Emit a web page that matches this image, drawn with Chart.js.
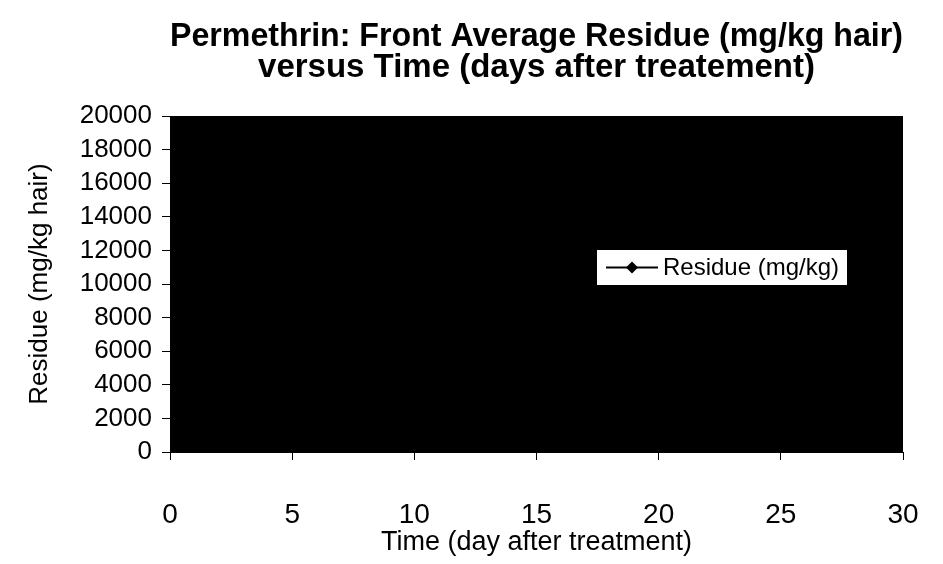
<!DOCTYPE html>
<html>
<head>
<meta charset="utf-8">
<script src="https://cdn.jsdelivr.net/npm/chart.js@4"></script>
<style>
  html, body { margin: 0; padding: 0; background: #fff; overflow: hidden; }
  #wrap { width: 943px; height: 564px; }
</style>
</head>
<body>
<div id="wrap"><canvas id="residue"></canvas></div>
<script>
// days after treatment and residue (values sit close to zero)
var days = [1, 14, 21];
var residue = [300, 150, 250];
var seriesLabel = "Residue (mg/kg)";
var titleLines = ["Permethrin: Front Average Residue (mg/kg hair)", "versus Time (days after treatement)"];

var FONT = "'Liberation Sans', Arial, sans-serif";

// dark plot area of the scanned original
var plotBackground = {
  id: "plotBackground",
  beforeDatasetsDraw: function (chart) {
    var a = chart.chartArea, c = chart.ctx;
    c.save();
    c.fillStyle = "#000";
    c.fillRect(a.left, a.top, a.right - a.left, a.bottom - a.top);
    c.restore();
  }
};

// legend box sitting inside the plot
var insideLegend = {
  id: "insideLegend",
  afterDraw: function (chart) {
    var c = chart.ctx, a = chart.chartArea;
    var x = a.left + 426, y = a.top + 133, w = 252, h = 37;
    c.save();
    c.fillStyle = "#fff";
    c.fillRect(x, y, w, h);
    c.strokeStyle = "#000";
    c.lineWidth = 1;
    c.strokeRect(x + 0.5, y + 0.5, w - 1, h - 1);
    var my = y + h / 2;
    c.beginPath();
    c.moveTo(x + 10, my);
    c.lineTo(x + 62, my);
    c.lineWidth = 2;
    c.stroke();
    c.beginPath();
    c.moveTo(x + 36, my - 6);
    c.lineTo(x + 42, my);
    c.lineTo(x + 36, my + 6);
    c.lineTo(x + 30, my);
    c.closePath();
    c.fillStyle = "#000";
    c.fill();
    c.font = "24px " + FONT;
    c.textBaseline = "middle";
    c.fillText(chart.data.datasets[0].label, x + 67, my + 1);
    c.restore();
  }
};

var ctx = document.getElementById("residue").getContext("2d");
var residueChart = new Chart(ctx, {
  type: "scatter",
  data: {
    datasets: [{
      label: seriesLabel,
      data: days.map(function (d, i) { return { x: d, y: residue[i] }; }),
      showLine: true,
      borderColor: "#000",
      borderWidth: 2,
      pointStyle: "rectRot",
      pointRadius: 6,
      pointBackgroundColor: "#000",
      pointBorderColor: "#000"
    }]
  },
  options: {
    responsive: true,
    maintainAspectRatio: false,
    animation: false,
    layout: { padding: { left: 0, right: 40, top: 0, bottom: 0 } },
    plugins: {
      legend: { display: false },
      tooltip: { enabled: false },
      title: {
        display: true,
        fullSize: false,
        text: titleLines,
        color: "#000",
        font: { family: FONT, size: 33, weight: "bold", lineHeight: "31px" },
        padding: { top: 21, bottom: 33 }
      }
    },
    scales: {
      x: {
        type: "linear",
        min: 0,
        max: 30,
        ticks: { stepSize: 5, color: "#000", padding: 38, font: { family: FONT, size: 28 } },
        grid: { drawOnChartArea: false, tickLength: 8, color: "#000" },
        border: { color: "#000", width: 1 },
        title: {
          display: true,
          text: "Time (day after treatment)",
          color: "#000",
          font: { family: FONT, size: 27 },
          padding: { top: 0, bottom: 5 }
        },
        afterFit: function (s) { s.height = 112; s.paddingLeft = 0; s.paddingRight = 0; }
      },
      y: {
        min: 0,
        max: 20000,
        ticks: {
          stepSize: 2000,
          autoSkip: false,
          color: "#000",
          padding: 10,
          font: { family: FONT, size: 26, lineHeight: 1 },
          callback: function (v) { return String(v); }
        },
        grid: { drawOnChartArea: false, tickLength: 8, color: "#000" },
        border: { color: "#000", width: 1 },
        title: {
          display: true,
          text: "Residue (mg/kg hair)",
          color: "#000",
          font: { family: FONT, size: 26 },
          padding: { top: 24, bottom: 0 }
        },
        afterFit: function (s) { s.width = 170; }
      }
    }
  },
  plugins: [plotBackground, insideLegend]
});
</script>
</body>
</html>
